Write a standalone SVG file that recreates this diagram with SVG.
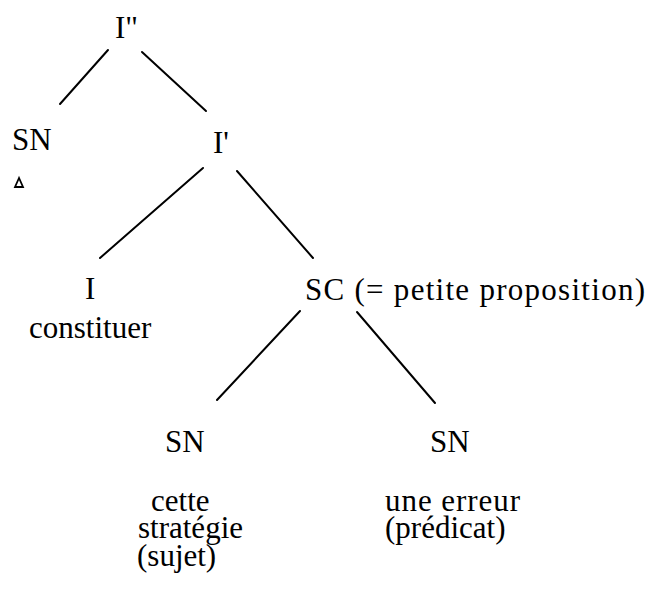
<svg xmlns="http://www.w3.org/2000/svg" width="654" height="607" viewBox="0 0 654 607">
<style>
text { font-family: "Liberation Serif", "Times New Roman", serif; font-size: 31px; fill: #000; }
.edge { stroke: #000; stroke-width: 2; stroke-linecap: round; fill: none; }
</style>
<rect width="654" height="607" fill="#fff"/>
<g id="connectors">
<line class="edge" x1="108" y1="50" x2="60" y2="104"/>
<line class="edge" x1="142" y1="52" x2="206" y2="111"/>
<line class="edge" x1="203" y1="168" x2="100" y2="258"/>
<line class="edge" x1="237" y1="171" x2="313" y2="258"/>
<line class="edge" x1="300" y1="311" x2="217" y2="400"/>
<line class="edge" x1="357" y1="312" x2="435" y2="403"/>
</g>
<g id="n-I2"><text x="115" y="38">I"</text></g>
<g id="n-SN1"><text x="12" y="150">SN</text><polygon points="19,178 15,187 23,187" fill="none" stroke="#000" stroke-width="1.8"/></g>
<g id="n-I1"><text x="213" y="153">I'</text></g>
<g id="n-I"><text x="85" y="299">I</text><text x="29" y="338">constituer</text></g>
<g id="n-SC"><text x="305" y="300" textLength="340">SC (= petite proposition)</text></g>
<g id="n-SN2"><text x="165" y="452">SN</text><text x="151" y="511">cette</text><text x="138" y="538">stratégie</text><text x="137" y="566">(sujet)</text></g>
<g id="n-SN3"><text x="430" y="452">SN</text><text x="385" y="511" textLength="135">une erreur</text><text x="385" y="538">(prédicat)</text></g>
</svg>
